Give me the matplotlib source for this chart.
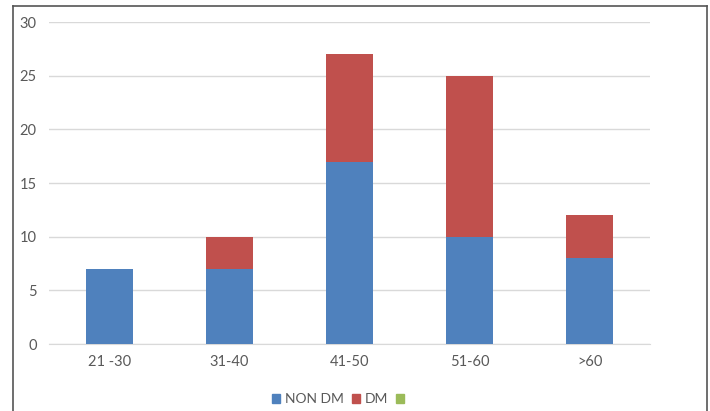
import matplotlib
matplotlib.use("Agg")
import matplotlib.pyplot as plt
from matplotlib.patches import Patch
from matplotlib.lines import Line2D
import numpy as np

categories = ["21 -30", "31-40", "41-50", "51-60", ">60"]
non_dm = [7, 7, 17, 10, 8]
dm = [0, 3, 10, 15, 4]

blue = "#4F81BD"
red = "#C0504D"
green = "#9BBB59"
text_col = "#595959"

plt.rcParams['font.family'] = ['Lato', 'DejaVu Sans']
plt.rcParams['font.size'] = 10

fig = plt.figure(figsize=(7.1, 4.11), dpi=100)
ax = fig.add_axes([49 / 710, 1 - 344 / 411, 601 / 710, 322 / 411])

x = np.arange(len(categories))
ax.bar(x, non_dm, width=0.39, color=blue, zorder=3)
ax.bar(x, dm, width=0.39, bottom=non_dm, color=red, zorder=3)

ax.set_xlim(-0.5, len(categories) - 0.5)
ax.set_ylim(0, 30)
ax.set_yticks(range(0, 31, 5))
ax.set_xticks(x)
ax.set_xticklabels(categories)
ax.yaxis.grid(True, color="#d9d9d9", linewidth=1, zorder=0)
for s in ["top", "right", "left"]:
    ax.spines[s].set_visible(False)
ax.spines["bottom"].set_color("#d9d9d9")
ax.tick_params(axis="both", length=0, colors=text_col, labelsize=10.5)
ax.tick_params(axis="y", pad=9)
ax.tick_params(axis="x", pad=8)

handles = [Patch(color=blue, label="NON DM"),
           Patch(color=red, label="DM"),
           Patch(color=green, label=" ")]
fig.legend(handles=handles, loc="center", bbox_to_anchor=(342 / 710, 1 - 399 / 411),
           ncol=3, frameon=False, handlelength=0.6, handleheight=0.6,
           handletextpad=0.3, columnspacing=0.6, fontsize=10, labelcolor=text_col)

# outer frame around the chart area
frame = dict(color="#555555", linewidth=1.2, transform=fig.transFigure, clip_on=False)
fig.add_artist(Line2D([13 / 710, 13 / 710], [0, 1 - 6 / 411], **frame))
fig.add_artist(Line2D([707 / 710, 707 / 710], [0, 1 - 6 / 411], **frame))
fig.add_artist(Line2D([13 / 710, 707 / 710], [1 - 6 / 411, 1 - 6 / 411], **frame))

fig.savefig("out.png", dpi=100)
